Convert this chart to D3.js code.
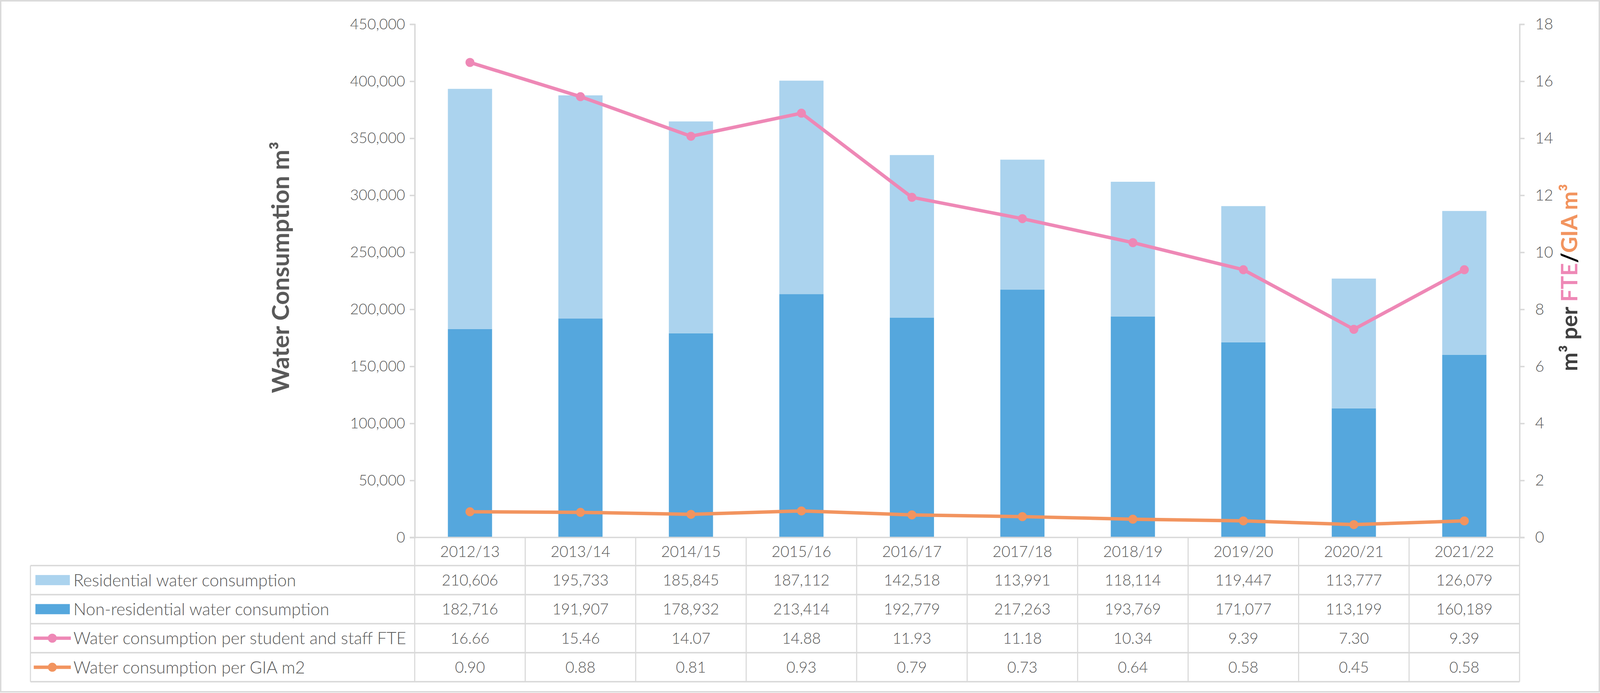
<!DOCTYPE html>
<html>
<head>
<meta charset="utf-8">
<script src="https://cdn.jsdelivr.net/npm/d3@7"></script>
<style>
  html, body { margin: 0; padding: 0; background: #fff; overflow: hidden; }
  #chart { display: block; }
  svg text { font-family: Lato, "Open Sans", sans-serif; }
</style>
</head>
<body>
<svg id="chart"></svg>
<script>
// data
const categories = ['2012/13', '2013/14', '2014/15', '2015/16', '2016/17', '2017/18', '2018/19', '2019/20', '2020/21', '2021/22'];
const residential = [210606, 195733, 185845, 187112, 142518, 113991, 118114, 119447, 113777, 126079];
const nonResidential = [182716, 191907, 178932, 213414, 192779, 217263, 193769, 171077, 113199, 160189];
const perFTE = [16.66, 15.46, 14.07, 14.88, 11.93, 11.18, 10.34, 9.39, 7.30, 9.39];
const perGIA = [0.90, 0.88, 0.81, 0.93, 0.79, 0.73, 0.64, 0.58, 0.45, 0.58];

const leftTicks = [0, 50000, 100000, 150000, 200000, 250000, 300000, 350000, 400000, 450000];
const rightTicks = [0, 2, 4, 6, 8, 10, 12, 14, 16, 18];

const colors = {
    residential: '#abd3ee',
    nonResidential: '#55a7dd',
    fte: '#ee88b6',
    gia: '#f2945f',
    grid: '#d9d9d9',
    text: '#595959'
};

// layout is laid out on a 4834 x 1773 design grid and scaled to the window
const W = window.innerWidth, H = window.innerHeight;
const sx = W / 4834, sy = H / 1773;
const sm = Math.sqrt(sx * sy);
const X = v => v * sx, Y = v => v * sy;

const plot = { left: 1253, right: 4591, top: 62, bottom: 1375 };
const table = { left: 92, top: 1447, rowH: 74.3 };

const svg = d3.select('#chart').attr('width', W).attr('height', H);

// outer frame
svg.append('rect')
    .attr('x', X(2)).attr('y', Y(2)).attr('width', X(4830)).attr('height', Y(1768))
    .attr('fill', '#fff').attr('stroke', colors.grid).attr('stroke-width', 4 * sm);

const x = d3.scaleBand().domain(categories).range([X(plot.left), X(plot.right)]);
const y = d3.scaleLinear().domain([0, 450000]).range([Y(plot.bottom), Y(plot.top)]);
const y2 = d3.scaleLinear().domain([0, 18]).range([Y(plot.bottom), Y(plot.top)]);
const cx = c => x(c) + x.bandwidth() / 2;

const barW = x.bandwidth() * 0.4;

// stacked bars
const stackData = categories.map((c, i) => ({ cat: c, nonRes: nonResidential[i], res: residential[i] }));
const stack = d3.stack().keys(['nonRes', 'res'])(stackData);
const barColors = { nonRes: colors.nonResidential, res: colors.residential };

svg.append('g').selectAll('g')
    .data(stack)
    .join('g')
    .attr('fill', d => barColors[d.key])
    .selectAll('rect')
    .data(d => d)
    .join('rect')
    .attr('x', d => x(d.data.cat) + (x.bandwidth() - barW) / 2)
    .attr('width', barW)
    .attr('y', d => y(d[1]))
    .attr('height', d => y(d[0]) - y(d[1]));

// left axis
const leftAxis = svg.append('g')
    .attr('transform', `translate(${X(plot.left)},0)`)
    .call(d3.axisLeft(y).tickValues(leftTicks).tickFormat(d3.format(',')).tickSize(X(15)).tickPadding(X(14)));
leftAxis.select('.domain').attr('stroke', colors.grid).attr('stroke-width', 4 * sm);
leftAxis.selectAll('.tick line').attr('stroke', colors.grid).attr('stroke-width', 4 * sm);
leftAxis.selectAll('.tick text').attr('fill', colors.text).attr('font-size', 45 * sx)
    .attr('font-family', 'Lato, sans-serif').attr('font-weight', 300);

// right axis
const rightAxis = svg.append('g')
    .attr('transform', `translate(${X(plot.right)},0)`)
    .call(d3.axisRight(y2).tickValues(rightTicks).tickFormat(d3.format('d')).tickSize(X(15)).tickPadding(X(32)));
rightAxis.select('.domain').attr('stroke', colors.grid).attr('stroke-width', 4 * sm);
rightAxis.selectAll('.tick line').attr('stroke', colors.grid).attr('stroke-width', 4 * sm);
rightAxis.selectAll('.tick text').attr('fill', colors.text).attr('font-size', 47 * sx)
    .attr('font-family', '"DejaVu Sans", sans-serif').attr('font-weight', 300);

// baseline across the plot
svg.append('line')
    .attr('x1', X(plot.left - 15)).attr('x2', X(plot.right + 15))
    .attr('y1', Y(plot.bottom)).attr('y2', Y(plot.bottom))
    .attr('stroke', colors.grid).attr('stroke-width', 4 * sm);

// lines
function drawLine(values, color) {
    const line = d3.line()
        .x((d, i) => cx(categories[i]))
        .y(d => y2(d));
    svg.append('path')
        .datum(values)
        .attr('fill', 'none')
        .attr('stroke', color)
        .attr('stroke-width', 9.5 * sm)
        .attr('stroke-linejoin', 'round')
        .attr('d', line);
    svg.append('g').selectAll('circle')
        .data(values)
        .join('circle')
        .attr('cx', (d, i) => cx(categories[i]))
        .attr('cy', d => y2(d))
        .attr('r', 12.5 * sm)
        .attr('fill', color);
}
drawLine(perFTE, colors.fte);
drawLine(perGIA, colors.gia);

// axis titles
svg.append('text')
    .attr('transform', `translate(${X(873)},${Y(684)}) rotate(-90)`)
    .attr('text-anchor', 'middle')
    .attr('font-size', 62 * sy)
    .attr('font-weight', 'bold')
    .attr('fill', colors.text)
    .text('Water Consumption m³');

const rt = svg.append('text')
    .attr('transform', `translate(${X(4765)},${Y(710)}) rotate(-90)`)
    .attr('text-anchor', 'middle')
    .attr('font-size', 57 * sy)
    .attr('font-weight', 'bold');
rt.append('tspan').attr('fill', '#404040').text('m³ per ');
rt.append('tspan').attr('fill', colors.fte).text('FTE');
rt.append('tspan').attr('fill', '#000').text('/');
rt.append('tspan').attr('fill', colors.gia).text('GIA m³');

// data table
const rows = [
    { label: 'Residential water consumption', values: residential, fmt: d3.format(','), type: 'bar', color: colors.residential },
    { label: 'Non-residential water consumption', values: nonResidential, fmt: d3.format(','), type: 'bar', color: colors.nonResidential },
    { label: 'Water consumption per student and staff FTE', values: perFTE, fmt: d3.format('.2f'), type: 'line', color: colors.fte },
    { label: 'Water consumption per GIA m2', values: perGIA, fmt: d3.format('.2f'), type: 'line', color: colors.gia }
];

const grid = svg.append('g').attr('stroke', colors.grid);
const tableBottom = table.top + rows.length * table.rowH;

// horizontal rules
d3.range(rows.length + 1).forEach(i => {
    grid.append('line')
        .attr('x1', X(table.left)).attr('x2', X(plot.right))
        .attr('y1', Y(table.top + i * table.rowH)).attr('y2', Y(table.top + i * table.rowH))
        .attr('stroke-width', 4 * sm);
});
// vertical rules
grid.append('line').attr('x1', X(table.left)).attr('x2', X(table.left))
    .attr('y1', Y(table.top)).attr('y2', Y(tableBottom)).attr('stroke-width', 3 * sm);
categories.forEach(c => {
    grid.append('line').attr('x1', x(c)).attr('x2', x(c))
        .attr('y1', Y(plot.bottom)).attr('y2', Y(tableBottom)).attr('stroke-width', 3 * sm);
});
grid.append('line').attr('x1', X(plot.right)).attr('x2', X(plot.right))
    .attr('y1', Y(plot.bottom)).attr('y2', Y(tableBottom)).attr('stroke-width', 3 * sm);

// category labels
svg.append('g').selectAll('text')
    .data(categories)
    .join('text')
    .attr('x', d => cx(d))
    .attr('y', Y((plot.bottom + table.top) / 2))
    .attr('dy', '0.36em')
    .attr('text-anchor', 'middle')
    .attr('font-size', 46 * sx)
    .attr('font-weight', 300)
    .attr('fill', colors.text)
    .text(d => d);

rows.forEach((r, ri) => {
    const cy = Y(table.top + ri * table.rowH + table.rowH / 2);
    const g = svg.append('g');
    if (r.type === 'bar') {
        g.append('rect').attr('x', X(107)).attr('y', cy - Y(13)).attr('width', X(104)).attr('height', Y(26)).attr('fill', r.color);
    } else {
        g.append('line').attr('x1', X(102)).attr('x2', X(214)).attr('y1', cy).attr('y2', cy)
            .attr('stroke', r.color).attr('stroke-width', 9.5 * sm);
        g.append('circle').attr('cx', X(158)).attr('cy', cy).attr('r', 12.5 * sm).attr('fill', r.color);
    }
    g.append('text')
        .attr('x', X(222)).attr('y', cy).attr('dy', '0.36em')
        .attr('font-size', 51 * sx).attr('font-weight', 300).attr('fill', colors.text)
        .text(r.label);
    g.selectAll('text.val')
        .data(r.values)
        .join('text')
        .attr('class', 'val')
        .attr('x', (d, i) => cx(categories[i]))
        .attr('y', cy).attr('dy', '0.36em')
        .attr('text-anchor', 'middle')
        .attr('font-size', 46 * sx).attr('font-weight', 300).attr('fill', colors.text)
        .text(d => r.fmt(d));
});
</script>
</body>
</html>
